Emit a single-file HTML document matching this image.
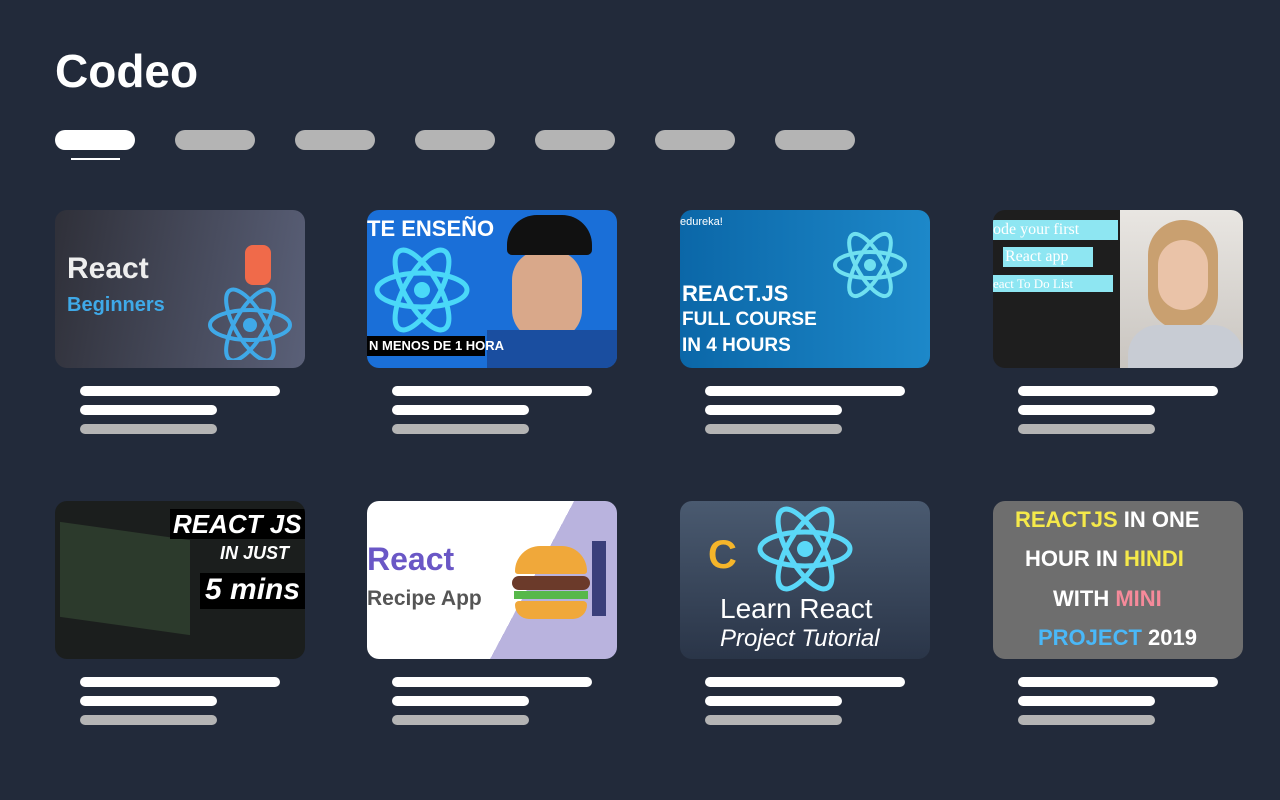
<!DOCTYPE html>
<html><head><meta charset="utf-8"><style>
*{margin:0;padding:0;box-sizing:border-box}
body{width:1280px;height:800px;background:#222a3a;position:relative;overflow:hidden;font-family:"Liberation Sans",sans-serif}
.t{position:absolute;left:55px;top:44px;font-size:46px;font-weight:bold;color:#fff}
.tab{position:absolute;top:130px;width:80px;height:20px;border-radius:10px;background:#b4b4b4}
.card{position:absolute;width:250px;height:158px;border-radius:12px;overflow:hidden}
.l{position:absolute;height:10px;border-radius:5px;background:#fff}
.g{background:#b4b4b4}
.card span{position:absolute;font-weight:bold;white-space:nowrap}
.atom{position:absolute;border-radius:50%}
</style></head><body>
<div class="t">Codeo</div>
<div class="tab" style="left:55px;background:#fff"></div>
<div style="position:absolute;left:71px;top:158px;width:49px;height:2px;background:#fff"></div>
<div class="tab" style="left:175px"></div><div class="tab" style="left:295px"></div><div class="tab" style="left:415px"></div><div class="tab" style="left:535px"></div><div class="tab" style="left:655px"></div><div class="tab" style="left:775px"></div>

<div class="card" style="left:55px;top:210px;background:linear-gradient(100deg,#2f3039,#5a6078)">
<span style="left:12px;top:42px;font-size:30px;color:#eee">React</span>
<span style="left:12px;top:84px;font-size:20px;color:#3fa9e8">Beginners</span>
<svg style="position:absolute;left:150px;top:70px" width="90" height="80"><g fill="none" stroke="#3fa9e8" stroke-width="4"><ellipse cx="45" cy="45" rx="40" ry="15"/><ellipse cx="45" cy="45" rx="40" ry="15" transform="rotate(60 45 45)"/><ellipse cx="45" cy="45" rx="40" ry="15" transform="rotate(-60 45 45)"/></g><circle cx="45" cy="45" r="7" fill="#3fa9e8"/></svg>
<div style="position:absolute;left:190px;top:35px;width:26px;height:40px;background:#f06a4a;border-radius:8px"></div>
</div>
<div class="card" style="left:367px;top:210px;background:#1a6fd8">
<span style="left:0;top:6px;font-size:22px;color:#fff">TE ENSEÑO</span>
<svg style="position:absolute;left:5px;top:30px" width="100" height="100"><g fill="none" stroke="#4ad8f8" stroke-width="5"><ellipse cx="50" cy="50" rx="45" ry="17"/><ellipse cx="50" cy="50" rx="45" ry="17" transform="rotate(60 50 50)"/><ellipse cx="50" cy="50" rx="45" ry="17" transform="rotate(-60 50 50)"/></g><circle cx="50" cy="50" r="8" fill="#4ad8f8"/></svg>
<div style="position:absolute;left:145px;top:40px;width:70px;height:90px;background:#d9a88a;border-radius:30px"></div>
<div style="position:absolute;left:140px;top:5px;width:85px;height:40px;background:#111;border-radius:30px 30px 5px 5px"></div>
<div style="position:absolute;left:120px;top:120px;width:130px;height:40px;background:#1a4ea0"></div>
<div style="position:absolute;left:0;top:126px;width:118px;height:20px;background:#000"></div>
<span style="left:2px;top:128px;font-size:13px;color:#fff">N MENOS DE 1 HORA</span>
</div>
<div class="card" style="left:680px;top:210px;background:linear-gradient(90deg,#0b67a8,#1d88c9)">
<span style="left:0;top:6px;font-size:11px;color:#fff;font-weight:normal">edureka!</span>
<span style="left:2px;top:72px;font-size:22px;color:#fff;line-height:24px">REACT.JS<br><span style="position:static;font-size:19px">FULL COURSE<br>IN 4 HOURS</span></span>
<svg style="position:absolute;left:150px;top:15px" width="80" height="80"><g fill="none" stroke="#6fe0f0" stroke-width="4"><ellipse cx="40" cy="40" rx="35" ry="13"/><ellipse cx="40" cy="40" rx="35" ry="13" transform="rotate(60 40 40)"/><ellipse cx="40" cy="40" rx="35" ry="13" transform="rotate(-60 40 40)"/></g><circle cx="40" cy="40" r="6" fill="#6fe0f0"/></svg>
</div>
<div class="card" style="left:993px;top:210px;background:#1e1e1e">
<div style="position:absolute;left:0;top:10px;width:125px;height:20px;background:#8ee6f2"></div>
<div style="position:absolute;left:10px;top:37px;width:90px;height:20px;background:#8ee6f2"></div>
<div style="position:absolute;left:0;top:65px;width:120px;height:17px;background:#8ee6f2"></div>
<span style="left:0;top:11px;font-size:16px;color:#fff;font-family:'Liberation Serif',serif;font-weight:normal">ode your first</span>
<span style="left:12px;top:38px;font-size:16px;color:#fff;font-family:'Liberation Serif',serif;font-weight:normal">React app</span>
<span style="left:0;top:66px;font-size:13px;color:#fff;font-family:'Liberation Serif',serif;font-weight:normal">eact To Do List</span>
<div style="position:absolute;left:127px;top:0;width:123px;height:158px;background:linear-gradient(#e9e6e2,#c9c5c0)"></div>
<div style="position:absolute;left:155px;top:10px;width:70px;height:110px;background:#c9a070;border-radius:35px"></div>
<div style="position:absolute;left:165px;top:30px;width:50px;height:70px;background:#eac3a8;border-radius:25px"></div>
<div style="position:absolute;left:135px;top:115px;width:115px;height:45px;background:#c8ccd4;border-radius:30px 30px 0 0"></div>
</div>

<div class="card" style="left:55px;top:501px;background:#1b1e1d">
<div style="position:absolute;left:5px;top:30px;width:130px;height:95px;background:#2c3a2c;transform:skewY(8deg)"></div>
<div style="position:absolute;left:115px;top:8px;width:135px;height:30px;background:#000"></div>
<span style="left:118px;top:8px;font-size:26px;color:#fff;font-style:italic">REACT JS</span>
<span style="left:165px;top:42px;font-size:18px;color:#fff;font-style:italic">IN JUST</span>
<div style="position:absolute;left:145px;top:72px;width:105px;height:36px;background:#000"></div>
<span style="left:150px;top:72px;font-size:30px;color:#fff;font-style:italic">5 mins</span>
</div>
<div class="card" style="left:367px;top:501px;background:linear-gradient(118deg,#fff 0,#fff 62%,#b9b3de 62%)">
<span style="left:0;top:40px;font-size:32px;color:#6a57c6">React</span>
<span style="left:0;top:86px;font-size:21px;color:#555">Recipe App</span>
<div style="position:absolute;left:148px;top:45px;width:72px;height:28px;background:#f0a83a;border-radius:36px 36px 4px 4px"></div>
<div style="position:absolute;left:145px;top:75px;width:78px;height:14px;background:#6b3a2a;border-radius:7px"></div>
<div style="position:absolute;left:147px;top:90px;width:74px;height:8px;background:#57b84a"></div>
<div style="position:absolute;left:148px;top:100px;width:72px;height:18px;background:#f0a83a;border-radius:4px 4px 14px 14px"></div>
<div style="position:absolute;left:225px;top:40px;width:14px;height:75px;background:#3a3f7a"></div>
</div>
<div class="card" style="left:680px;top:501px;background:linear-gradient(#4a5a70,#2a3548)">
<svg style="position:absolute;left:75px;top:3px" width="100" height="90"><g fill="none" stroke="#5ad8f8" stroke-width="5"><ellipse cx="50" cy="45" rx="45" ry="17"/><ellipse cx="50" cy="45" rx="45" ry="17" transform="rotate(60 50 45)"/><ellipse cx="50" cy="45" rx="45" ry="17" transform="rotate(-60 50 45)"/></g><circle cx="50" cy="45" r="8" fill="#5ad8f8"/></svg>
<span style="left:28px;top:32px;font-size:40px;color:#f5b52a">C</span>
<span style="left:40px;top:92px;font-size:28px;color:#fff;font-weight:normal">Learn React</span>
<span style="left:40px;top:124px;font-size:24px;color:#fff;font-weight:normal;font-style:italic">Project Tutorial</span>
</div>
<div class="card" style="left:993px;top:501px;background:#6e6e6e">
<span style="left:22px;top:6px;font-size:22px;color:#f5e94a">REACTJS <span style="position:static;color:#fff">IN ONE</span></span>
<span style="left:32px;top:45px;font-size:22px;color:#fff">HOUR IN <span style="position:static;color:#f5e94a">HINDI</span></span>
<span style="left:60px;top:85px;font-size:22px;color:#fff">WITH <span style="position:static;color:#f58a9a">MINI</span></span>
<span style="left:45px;top:124px;font-size:22px;color:#4ab8f8">PROJECT <span style="position:static;color:#fff">2019</span></span>
</div>

<div class="l" style="left:80px;top:386px;width:200px"></div><div class="l" style="left:80px;top:405px;width:137px"></div><div class="l g" style="left:80px;top:424px;width:137px"></div>
<div class="l" style="left:392px;top:386px;width:200px"></div><div class="l" style="left:392px;top:405px;width:137px"></div><div class="l g" style="left:392px;top:424px;width:137px"></div>
<div class="l" style="left:705px;top:386px;width:200px"></div><div class="l" style="left:705px;top:405px;width:137px"></div><div class="l g" style="left:705px;top:424px;width:137px"></div>
<div class="l" style="left:1018px;top:386px;width:200px"></div><div class="l" style="left:1018px;top:405px;width:137px"></div><div class="l g" style="left:1018px;top:424px;width:137px"></div>
<div class="l" style="left:80px;top:677px;width:200px"></div><div class="l" style="left:80px;top:696px;width:137px"></div><div class="l g" style="left:80px;top:715px;width:137px"></div>
<div class="l" style="left:392px;top:677px;width:200px"></div><div class="l" style="left:392px;top:696px;width:137px"></div><div class="l g" style="left:392px;top:715px;width:137px"></div>
<div class="l" style="left:705px;top:677px;width:200px"></div><div class="l" style="left:705px;top:696px;width:137px"></div><div class="l g" style="left:705px;top:715px;width:137px"></div>
<div class="l" style="left:1018px;top:677px;width:200px"></div><div class="l" style="left:1018px;top:696px;width:137px"></div><div class="l g" style="left:1018px;top:715px;width:137px"></div>
</body></html>
